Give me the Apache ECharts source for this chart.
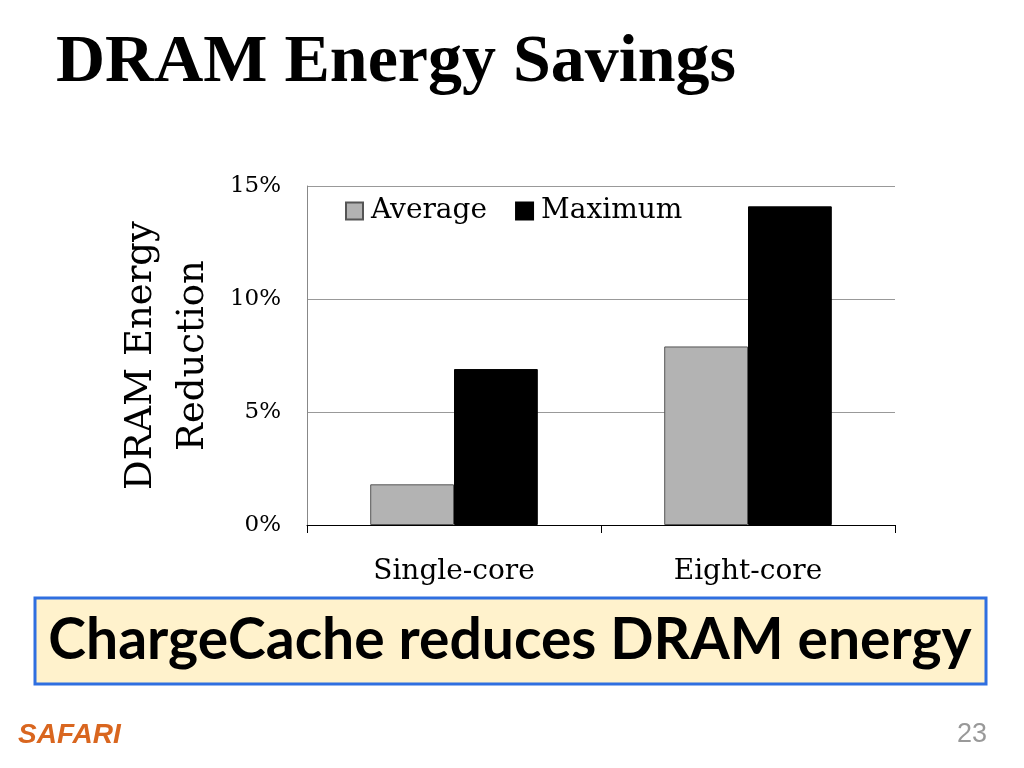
<!DOCTYPE html>
<html>
<head>
<meta charset="utf-8">
<script src="https://cdn.jsdelivr.net/npm/echarts@6/dist/echarts.min.js"></script>
<style>
  html, body { margin: 0; padding: 0; background: #fff; }
  #chart { width: 1024px; height: 768px; }
</style>
</head>
<body>
<div id="chart"></div>
<script>
// values (percent)
var categories = ['Single-core', 'Eight-core'];
var averageValues = [1.8, 7.9];
var maximumValues = [6.9, 14.1];
var seriesNames = ['Average', 'Maximum'];

var chart = echarts.init(document.getElementById('chart'));

var serif = '"DejaVu Serif", serif';

var option = {
    backgroundColor: '#fff',
    animation: false,
    title: {
        text: 'DRAM Energy Savings',
        left: 51,
        top: 24,
        textStyle: {
            fontFamily: '"Liberation Serif", serif',
            fontWeight: 'bold',
            fontSize: 68,
            color: '#000'
        }
    },
    legend: {
        data: seriesNames,
        left: 340,
        top: 192,
        icon: 'rect',
        itemWidth: 17,
        itemHeight: 17,
        itemGap: 28,
        textStyle: {
            fontFamily: serif,
            fontSize: 28,
            color: '#000',
            padding: [0, 0, 0, 3]
        }
    },
    grid: {
        left: 307,
        right: 129,
        top: 186,
        bottom: 243,
        containLabel: false
    },
    xAxis: {
        type: 'category',
        data: categories,
        boundaryGap: true,
        axisLine: { lineStyle: { color: '#000', width: 1 } },
        axisTick: { show: true, length: 8, alignWithLabel: false, lineStyle: { color: '#000' } },
        axisLabel: {
            margin: 33,
            fontFamily: serif,
            fontSize: 28,
            color: '#000'
        }
    },
    yAxis: {
        type: 'value',
        min: 0,
        max: 15,
        interval: 5,
        name: 'DRAM Energy\nReduction',
        nameLocation: 'middle',
        nameRotate: 90,
        nameGap: 83,
        nameTextStyle: {
            fontFamily: serif,
            fontSize: 37,
            lineHeight: 52,
            color: '#000'
        },
        axisLine: { show: true, lineStyle: { color: '#888', width: 1 } },
        axisTick: { show: false },
        axisLabel: {
            formatter: '{value}%',
            margin: 26,
            fontFamily: serif,
            fontSize: 23,
            color: '#000'
        },
        splitLine: { lineStyle: { color: '#999', width: 1 } }
    },
    series: [
        {
            name: seriesNames[0],
            type: 'bar',
            data: averageValues,
            barGap: '0%',
            barCategoryGap: '43%',
            itemStyle: { color: '#b3b3b3', borderColor: '#555', borderWidth: 1 }
        },
        {
            name: seriesNames[1],
            type: 'bar',
            data: maximumValues,
            barGap: '0%',
            barCategoryGap: '43%',
            itemStyle: { color: '#000', borderColor: '#000', borderWidth: 1 }
        }
    ],
    graphic: [
        {
            type: 'rect',
            shape: { x: 35, y: 598, width: 951, height: 86 },
            style: { fill: '#fff2cc', stroke: '#2f6fe0', lineWidth: 3 }
        },
        {
            type: 'text',
            x: 510,
            y: 641,
            style: {
                text: 'ChargeCache reduces DRAM energy',
                fontFamily: 'Lato, sans-serif',
                fontWeight: 'bold',
                fontSize: 57,
                fill: '#000',
                align: 'center',
                verticalAlign: 'middle'
            }
        },
        {
            type: 'text',
            x: 18,
            y: 735,
            style: {
                text: 'SAFARI',
                fontFamily: '"Liberation Sans", sans-serif',
                fontWeight: 'bold',
                fontStyle: 'italic',
                fontSize: 28,
                fill: '#d9661f',
                verticalAlign: 'middle'
            }
        },
        {
            type: 'text',
            x: 987,
            y: 735,
            style: {
                text: '23',
                fontFamily: '"Liberation Sans Narrow", "Liberation Sans", sans-serif',
                fontSize: 27,
                fill: '#999',
                align: 'right',
                verticalAlign: 'middle'
            }
        }
    ]
};

chart.setOption(option);
</script>
</body>
</html>
